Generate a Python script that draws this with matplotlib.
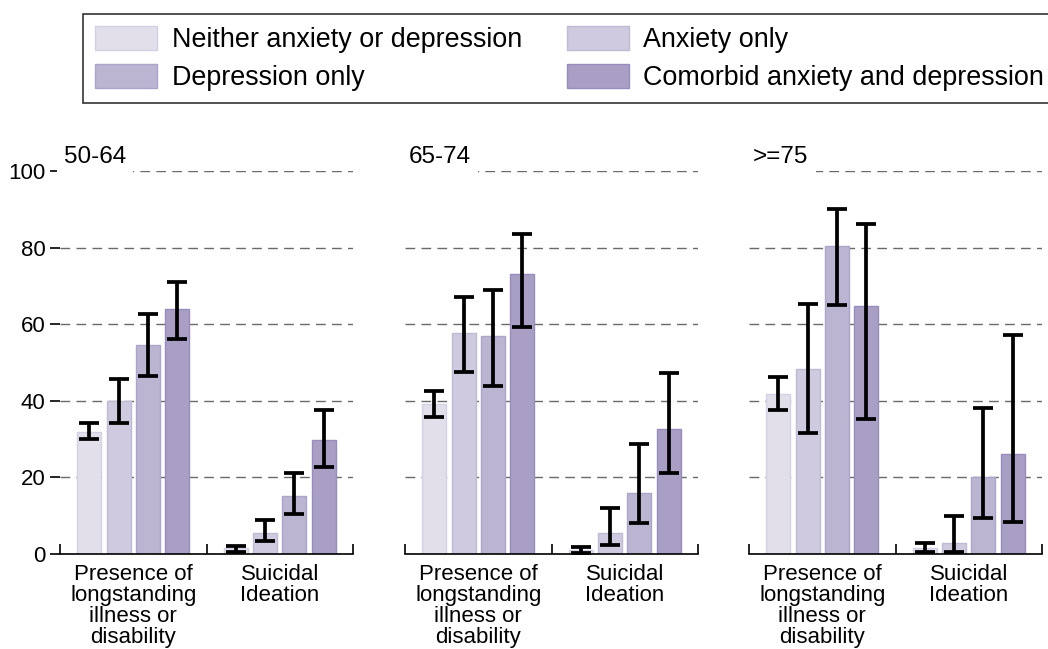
import matplotlib
matplotlib.use('Agg')
import matplotlib.pyplot as plt
import numpy as np

plt.rcParams['font.family'] = ['Liberation Sans', 'DejaVu Sans']

# Age groups (one panel each) and the two outcomes on the x axis
age_groups = ['50-64', '65-74', '>=75']
outcomes = ['Presence of\nlongstanding\nillness or\ndisability', 'Suicidal\nIdeation']
series = ['Neither anxiety or depression', 'Anxiety only',
          'Depression only', 'Comorbid anxiety and depression']

# Percentages per series: [illness, suicidal ideation]
est_5064 = [[32.0, 1.5], [40.0, 5.6], [54.6, 15.2], [63.9, 29.8]]
lo_5064 = [[30.0, 0.6], [34.1, 3.4], [46.5, 10.5], [56.2, 22.8]]
hi_5064 = [[34.1, 2.1], [45.8, 8.9], [62.6, 21.2], [71.0, 37.5]]

est_6574 = [[39.2, 1.0], [57.7, 5.4], [56.9, 16.0], [73.2, 32.7]]
lo_6574 = [[35.9, 0.3], [47.5, 2.4], [43.9, 8.2], [59.4, 21.1]]
hi_6574 = [[42.6, 1.9], [67.2, 11.9], [68.9, 28.7], [83.5, 47.2]]

est_75 = [[41.7, 1.5], [48.3, 2.8], [80.5, 20.2], [64.9, 26.0]]
lo_75 = [[37.5, 0.6], [31.7, 0.6], [65.1, 9.5], [35.2, 8.4]]
hi_75 = [[46.2, 3.0], [65.2, 10.0], [90.2, 38.1], [86.2, 57.2]]

estimates = [est_5064, est_6574, est_75]
lowers = [lo_5064, lo_6574, lo_75]
uppers = [hi_5064, hi_6574, hi_75]

fill_colors = ['#e2dfeb', '#cfcadf', '#bcb5d2', '#a99fc5']
edge_colors = ['#d4d0e3', '#c0bad5', '#aca4c9', '#978cbb']

fig = plt.figure(figsize=(10.48, 6.49), dpi=100)

lefts = [60, 405, 749]
x = np.arange(len(outcomes))
bar_w = 0.164
step = 0.2

handles = []
for p, left in enumerate(lefts):
    ax = fig.add_axes([left / 1048, 95 / 649, 293 / 1048, 382.7 / 649])
    for s in range(len(series)):
        est = np.array(estimates[p][s])
        lo = np.array(lowers[p][s])
        hi = np.array(uppers[p][s])
        xs = x + (s - 1.5) * step
        b = ax.bar(xs, est, bar_w, color=fill_colors[s], edgecolor=edge_colors[s],
                   linewidth=1, zorder=2, label=series[s])
        ax.errorbar(xs, est, yerr=[est - lo, hi - est], fmt='none', ecolor='black',
                    elinewidth=2.7, capsize=7, capthick=2.7, zorder=3)
        if p == 0:
            handles.append(b)

    ax.set_xlim(-0.5, 1.5)
    ax.set_ylim(0, 100)
    ax.set_yticks([0, 20, 40, 60, 80, 100])
    ax.yaxis.grid(True, linestyle=(0, (7, 4.5)), color='#6a6a6a', linewidth=1)
    ax.set_axisbelow(True)

    for side in ['left', 'right', 'top']:
        ax.spines[side].set_visible(False)
    ax.spines['bottom'].set_linewidth(1.2)

    ax.set_xticks(x)
    ax.set_xticklabels(outcomes, fontsize=16, linespacing=1.0)
    ax.set_xticks([-0.5, 0.5, 1.5], minor=True)
    ax.tick_params(axis='x', which='major', length=0, pad=7)
    ax.tick_params(axis='x', which='minor', direction='in', length=7, width=1.2)

    if p == 0:
        ax.tick_params(axis='y', labelsize=16, length=7.5, width=1.2, pad=3)
    else:
        ax.tick_params(axis='y', left=False, labelleft=False)

    ax.annotate(age_groups[p], xy=(0, 1), xycoords='axes fraction',
                xytext=(3, 6), textcoords='offset points', fontsize=17.5,
                va='baseline', ha='left',
                bbox=dict(facecolor='white', edgecolor='none', pad=5))

# legend is filled column by column, so order the handles to read row-wise
order = [0, 2, 1, 3]
leg = fig.legend(handles=[handles[i] for i in order], labels=[series[i] for i in order],
                 ncol=2, loc='upper left',
                 bbox_to_anchor=(83 / 1048, 1 - 14 / 649), fontsize=19.4,
                 frameon=True, fancybox=False, handlelength=2.3, handleheight=1.0,
                 handletextpad=0.55, columnspacing=1.65, borderpad=0.45,
                 labelspacing=0.38, borderaxespad=0)
leg.get_frame().set_edgecolor('black')
leg.get_frame().set_linewidth(1.2)

fig.savefig('out.png', dpi=100)
